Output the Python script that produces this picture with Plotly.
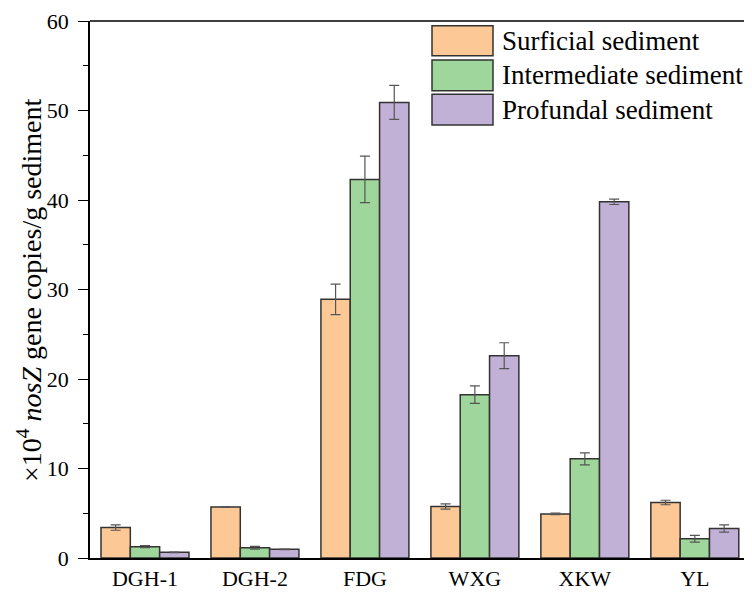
import plotly.graph_objects as go

sites = ["DGH-1", "DGH-2", "FDG", "WXG", "XKW", "YL"]
series_names = ["Surficial sediment", "Intermediate sediment", "Profundal sediment"]
surficial = [3.4, 5.7, 28.9, 5.75, 4.93, 6.2]
surficial_err = [0.3, 0.05, 1.7, 0.3, 0.1, 0.25]
intermediate = [1.27, 1.15, 42.3, 18.25, 11.08, 2.15]
intermediate_err = [0.12, 0.15, 2.6, 0.98, 0.67, 0.38]
profundal = [0.64, 0.97, 50.9, 22.6, 39.8, 3.3]
profundal_err = [0.03, 0.03, 1.9, 1.45, 0.3, 0.4]
colors = ["#FCC895", "#9ED69B", "#C2B1D6"]

FONT = "Liberation Serif, Times New Roman, serif"

fig = go.Figure()
for name, vals, errs, col in zip(series_names,
                                 [surficial, intermediate, profundal],
                                 [surficial_err, intermediate_err, profundal_err],
                                 colors):
    fig.add_trace(go.Bar(
        x=sites, y=vals, name=name,
        marker=dict(color=col, line=dict(color="#333333", width=1.5)),
        error_y=dict(type="data", array=errs, visible=True,
                     color="#555555", thickness=1.2, width=5),
        showlegend=False,
    ))

# page body has an 8px margin, so the figure is sized/positioned to compensate
OFF = 8
W, H = 752 - OFF, 592 - OFF
ml, mr, mt, mb = 90 - OFF, 0, 21 - OFF, 34
pw, ph = W - ml - mr, H - mt - mb
def px_to_paper_x(px):
    return (px - OFF - ml) / pw
def px_to_paper_y(py):
    return 1 - (py - OFF - mt) / ph

# custom legend (large swatches like the original)
swatch_y = [(25.7, 55.7), (60.0, 90.7), (94.3, 125.0)]
for (y0, y1), col, name in zip(swatch_y, colors, series_names):
    fig.add_shape(type="rect", xref="paper", yref="paper",
                  x0=px_to_paper_x(432), x1=px_to_paper_x(493),
                  y0=px_to_paper_y(y1), y1=px_to_paper_y(y0),
                  fillcolor=col, line=dict(color="#333333", width=1.5))
    fig.add_annotation(xref="paper", yref="paper",
                       x=px_to_paper_x(500), y=px_to_paper_y((y0 + y1) / 2),
                       text=name, showarrow=False, xanchor="left", yanchor="middle",
                       font=dict(family=FONT, size=27, color="black"))

# y-axis title
fig.add_annotation(xref="paper", yref="paper",
                   x=px_to_paper_x(29), y=px_to_paper_y(290),
                   text="×10<sup>4</sup> <i>nosZ</i> gene copies/g sediment",
                   textangle=-90, showarrow=False, xanchor="center", yanchor="middle",
                   font=dict(family=FONT, size=28, color="black"))

fig.update_layout(
    width=W, height=H,
    margin=dict(l=ml, r=mr, t=mt, b=mb),
    plot_bgcolor="white", paper_bgcolor="white",
    barmode="group", bargap=0.2, bargroupgap=0,
    font=dict(family=FONT, color="black"),
    xaxis=dict(
        range=[-0.5, 5.52], automargin=False,
        showline=True, linecolor="black", linewidth=1.5, mirror=False,
        ticks="", tickfont=dict(family=FONT, size=22),
        showgrid=False,
    ),
    yaxis=dict(
        range=[0, 60], dtick=10, automargin=False,
        showline=True, linecolor="black", linewidth=1.5,
        ticks="outside", ticklen=10, tickwidth=1.2, tickcolor="black",
        minor=dict(ticks="outside", dtick=5, ticklen=5, tickwidth=1.2, tickcolor="black"),
        tickfont=dict(family=FONT, size=22), ticklabelstandoff=5,
        showgrid=False, zeroline=False,
    ),
)
# top border line
fig.add_shape(type="line", xref="paper", yref="paper", x0=0, x1=1, y0=1, y1=1,
              line=dict(color="black", width=1.5))

fig.write_html("out.html")
